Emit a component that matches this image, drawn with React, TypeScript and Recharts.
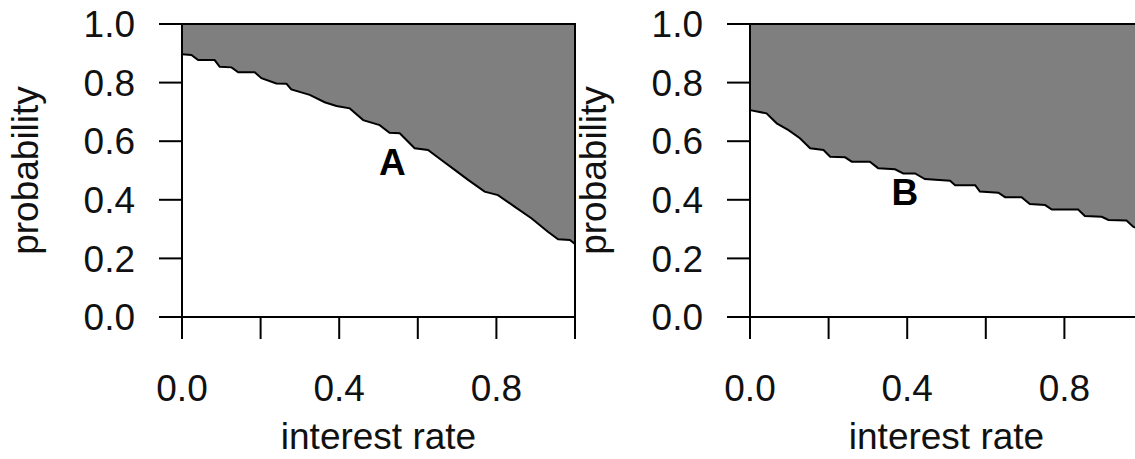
import {
  ComposedChart,
  Area,
  Line,
  XAxis,
  YAxis,
  ReferenceArea,
  ReferenceDot,
  Label
} from "recharts";

// curve A (left panel): interest rate vs probability boundary
const rateA = [0, 0.024, 0.041, 0.083, 0.096, 0.126, 0.143, 0.185, 0.202, 0.24, 0.266, 0.278, 0.325, 0.363, 0.393, 0.427, 0.461, 0.503, 0.528, 0.554, 0.592, 0.626, 0.66, 0.694, 0.728, 0.77, 0.804, 0.847, 0.889, 0.931, 0.957, 0.987, 1.0];
const probA = [0.897, 0.894, 0.877, 0.877, 0.854, 0.852, 0.835, 0.835, 0.815, 0.797, 0.796, 0.777, 0.758, 0.733, 0.72, 0.712, 0.672, 0.655, 0.629, 0.627, 0.576, 0.57, 0.536, 0.502, 0.468, 0.428, 0.416, 0.376, 0.337, 0.291, 0.265, 0.263, 0.249];

// curve B (right panel)
const rateB = [0, 0.042, 0.068, 0.098, 0.127, 0.153, 0.187, 0.204, 0.242, 0.259, 0.305, 0.326, 0.369, 0.39, 0.42, 0.445, 0.509, 0.522, 0.573, 0.585, 0.632, 0.649, 0.691, 0.712, 0.751, 0.768, 0.835, 0.852, 0.895, 0.912, 0.958, 0.975, 1.0];
const probB = [0.706, 0.695, 0.661, 0.638, 0.61, 0.576, 0.57, 0.547, 0.545, 0.53, 0.53, 0.508, 0.504, 0.49, 0.49, 0.471, 0.465, 0.45, 0.45, 0.428, 0.424, 0.409, 0.409, 0.386, 0.382, 0.367, 0.367, 0.345, 0.342, 0.331, 0.329, 0.308, 0.295];

const xTicks = [0, 0.2, 0.4, 0.6, 0.8, 1.0];
const xTickLabels = ["0.0", "", "0.4", "", "0.8", ""];
const yTicks = [0, 0.2, 0.4, 0.6, 0.8, 1.0];
const yTickLabels = ["0.0", "0.2", "0.4", "0.6", "0.8", "1.0"];

const FONT = "'Liberation Sans', Arial, sans-serif";
const GREY = "#7f7f7f";

type PanelProps = {
  rates: number[];
  probs: number[];
  tag: string;
  tagX: number;
  tagY: number;
};

const YTitle = (props: any) => {
  const { viewBox } = props;
  const cx = viewBox.x + 38;
  const cy = viewBox.y + viewBox.height / 2;
  return (
    <text
      x={cx}
      y={cy}
      transform={`rotate(-90, ${cx}, ${cy})`}
      textAnchor="middle"
      fontSize={37}
      fontFamily={FONT}
      fill="#111"
    >
      probability
    </text>
  );
};

function Panel({ rates, probs, tag, tagX, tagY }: PanelProps) {
  const data = rates.map((r, i) => ({ x: r, p: probs[i], band: [probs[i], 1] }));

  return (
    <ComposedChart
      width={580}
      height={459}
      data={data}
      margin={{ top: 24, right: 5, bottom: 0, left: 0 }}
    >
      <XAxis
        type="number"
        dataKey="x"
        domain={[0, 1]}
        ticks={xTicks}
        interval={0}
        tickFormatter={(_v: number, i: number) => xTickLabels[i]}
        axisLine={false}
        tickLine={{ stroke: "#000", strokeWidth: 2 }}
        tickSize={22}
        tickMargin={36}
        height={142}
        tick={{ fill: "#111", fontSize: 37, fontFamily: FONT }}
      >
        <Label
          value="interest rate"
          position="insideBottom"
          offset={10}
          style={{ fontSize: 37, fontFamily: FONT, fill: "#111" }}
        />
      </XAxis>
      <YAxis
        type="number"
        domain={[0, 1]}
        ticks={yTicks}
        interval={0}
        tickFormatter={(_v: number, i: number) => yTickLabels[i]}
        axisLine={false}
        tickLine={{ stroke: "#000", strokeWidth: 2 }}
        tickSize={23}
        tickMargin={24}
        width={182}
        tick={{ fill: "#111", fontSize: 37, fontFamily: FONT }}
        label={<YTitle />}
      />
      <Area
        type="linear"
        dataKey="band"
        fill={GREY}
        fillOpacity={1}
        stroke="none"
        isAnimationActive={false}
      />
      <Line
        type="linear"
        dataKey="p"
        stroke="#000"
        strokeWidth={2}
        dot={false}
        isAnimationActive={false}
      />
      <ReferenceArea x1={0} x2={1} y1={0} y2={1} fill="none" stroke="#000" strokeWidth={2} />
      <ReferenceDot
        x={tagX}
        y={tagY}
        r={0}
        fill="none"
        stroke="none"
        label={{
          value: tag,
          position: "center",
          style: { fontSize: 37, fontWeight: "bold", fontFamily: FONT, fill: "#000" }
        }}
      />
    </ComposedChart>
  );
}

export default function App() {
  return (
    <div
      style={{
        position: "absolute",
        left: 0,
        top: 0,
        width: 1135,
        height: 459,
        overflow: "hidden",
        background: "#fff"
      }}
    >
      <div style={{ position: "absolute", left: 0, top: 0 }}>
        <Panel rates={rateA} probs={probA} tag="A" tagX={0.535} tagY={0.53} />
      </div>
      <div style={{ position: "absolute", left: 568, top: 0 }}>
        <Panel rates={rateB} probs={probB} tag="B" tagX={0.394} tagY={0.428} />
      </div>
    </div>
  );
}
